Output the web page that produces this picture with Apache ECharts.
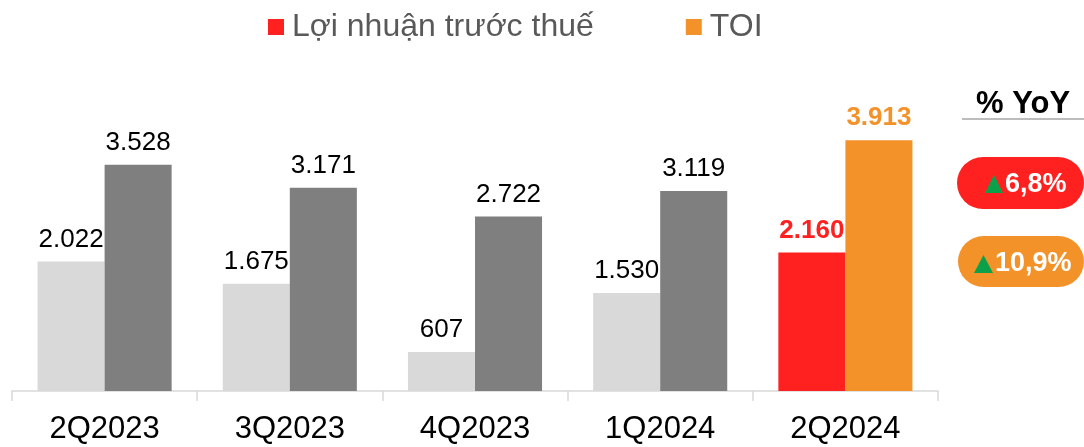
<!DOCTYPE html>
<html>
<head>
<meta charset="utf-8">
<script src="https://cdn.jsdelivr.net/npm/echarts@6/dist/echarts.min.js"></script>
<style>
html,body{margin:0;padding:0;background:#fff;}
#chart{width:1084px;height:447px;}
</style>
</head>
<body>
<div id="chart"></div>
<script>
// du lieu
var categories = ["2Q2023", "3Q2023", "4Q2023", "1Q2024", "2Q2024"];
var loiNhuan = [2022, 1675, 607, 1530, 2160];
var toi = [3528, 3171, 2722, 3119, 3913];
var yoyLabels = ["6,8%", "10,9%"];

var RED = "#FF2020", ORANGE = "#F4922A";
var LIGHT = "#D9D9D9", DARK = "#7F7F7F";
var FONT = "Liberation Sans, Arial, sans-serif";

function fmt(v) {
	return String(v).replace(/\B(?=(\d{3})+(?!\d))/g, ".");
}

function buildData(arr, gray, color) {
	var out = [];
	for (var i = 0; i < arr.length; i++) {
		if (i < arr.length - 1) {
			out.push({ value: arr[i], itemStyle: { color: gray } });
		} else {
			out.push({
				value: arr[i],
				itemStyle: { color: color },
				label: { color: color, fontWeight: "bold" }
			});
		}
	}
	return out;
}

var chart = echarts.init(document.getElementById("chart"));
var option = {
	animation: false,
	textStyle: { fontFamily: FONT },
	legend: {
		left: 263,
		top: 6,
		itemWidth: 16,
		itemHeight: 16,
		itemGap: 92,
		icon: "rect",
		textStyle: { fontSize: 32, color: "#595959", fontFamily: FONT, padding: [0, 0, 0, 3] },
		data: ["Lợi nhuận trước thuế", "TOI"]
	},
	grid: { left: 12, right: 146, top: 70.5, bottom: 56 },
	xAxis: {
		type: "category",
		data: categories,
		axisLine: { lineStyle: { color: "#D9D9D9", width: 1.5 } },
		axisTick: { show: true, length: 10, lineStyle: { color: "#D9D9D9", width: 1.5 } },
		axisLabel: { fontSize: 31, color: "#000", margin: 23, fontFamily: FONT }
	},
	yAxis: {
		type: "value",
		min: 0,
		max: 5000,
		show: false,
		splitLine: { show: false }
	},
	series: [
		{
			name: "Lợi nhuận trước thuế",
			type: "bar",
			barGap: "0%",
			barCategoryGap: "27.6%",
			itemStyle: { color: RED },
			label: {
				show: true, position: "top", distance: 9,
				fontSize: 26, color: "#000", fontFamily: FONT,
				formatter: function (p) { return fmt(p.value); }
			},
			data: buildData(loiNhuan, LIGHT, RED)
		},
		{
			name: "TOI",
			type: "bar",
			itemStyle: { color: ORANGE },
			label: {
				show: true, position: "top", distance: 9,
				fontSize: 26, color: "#000", fontFamily: FONT,
				formatter: function (p) { return fmt(p.value); }
			},
			data: buildData(toi, DARK, ORANGE)
		}
	],
	graphic: [
		{ type: "text", x: 976, y: 104, style: { text: "% YoY", font: "bold 31px " + FONT, fill: "#000", verticalAlign: "middle" } },
		{ type: "line", shape: { x1: 962, y1: 119, x2: 1084, y2: 119 }, style: { stroke: "#A6A6A6", lineWidth: 1.5 } },
		{ type: "rect", shape: { x: 957, y: 157, width: 127, height: 52, r: 26 }, style: { fill: RED } },
		{ type: "polygon", shape: { points: [[985, 193], [1003, 193], [994, 175]] }, style: { fill: "#0DA04A" } },
		{ type: "text", x: 1005, y: 185, style: { text: yoyLabels[0], font: "bold 27px " + FONT, fill: "#fff", verticalAlign: "middle" } },
		{ type: "rect", shape: { x: 958, y: 236, width: 126, height: 51, r: 25.5 }, style: { fill: ORANGE } },
		{ type: "polygon", shape: { points: [[974, 273], [993, 273], [983.5, 255]] }, style: { fill: "#0DA04A" } },
		{ type: "text", x: 995, y: 264, style: { text: yoyLabels[1], font: "bold 27px " + FONT, fill: "#fff", verticalAlign: "middle" } }
	]
};
chart.setOption(option);
</script>
</body>
</html>
